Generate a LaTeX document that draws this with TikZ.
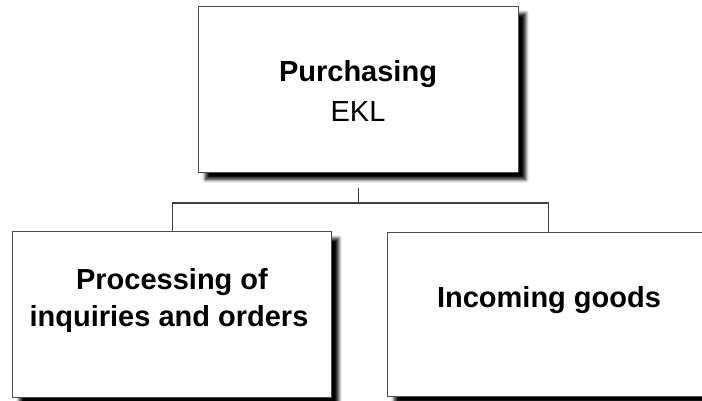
\documentclass[tikz,border=0pt]{standalone}
\usepackage{fontspec}
\setmainfont{Liberation Sans}
\usetikzlibrary{shadows.blur}
\begin{document}
\begin{tikzpicture}[x=1pt,y=1pt,
  orgbox/.style={draw=black!70, line width=1.2pt, fill=white, rectangle,
    inner sep=0pt, anchor=south west,
    blur shadow={shadow xshift=7pt, shadow yshift=-7pt, shadow blur radius=3.5pt,
      shadow blur steps=6, shadow opacity=100}},
  headtext/.style={font=\fontsize{29}{36}\selectfont\bfseries, anchor=base, inner sep=0pt},
  subtext/.style={font=\fontsize{29}{36}\selectfont, anchor=base, inner sep=0pt},
  link/.style={draw=black!75, line width=1.2pt}]
  \useasboundingbox (0,0) rectangle (702,401);
  \clip (0,0) rectangle (702,401);

  % boxes
  \node[orgbox, minimum width=320pt, minimum height=166pt] (top) at (198,228) {};
  \node[orgbox, minimum width=319pt, minimum height=166pt] (left) at (12,3) {};
  \node[orgbox, minimum width=322pt, minimum height=164pt] (right) at (387,4) {};

  % box texts
  \node[headtext] (topA) at (358,319) {Purchasing};
  \node[subtext]  (topB) at (358,279) {EKL};
  \node[headtext] (leftA) at (172,111) {Processing of};
  \node[headtext] (leftB) at (169,74) {inquiries and orders};
  \node[headtext] (rightA) at (549,93) {Incoming goods};

  % connectors
  \coordinate (stub) at ([yshift=-15pt]top.south);
  \coordinate (bus) at ([yshift=-30pt]top.south);
  \draw[link] (stub) -- (bus);
  \draw[link] (bus -| left.north) -- (bus -| right.north);
  \draw[link] (bus -| left.north) -- (left.north);
  \draw[link] (bus -| right.north) -- (right.north);
\end{tikzpicture}
\end{document}
